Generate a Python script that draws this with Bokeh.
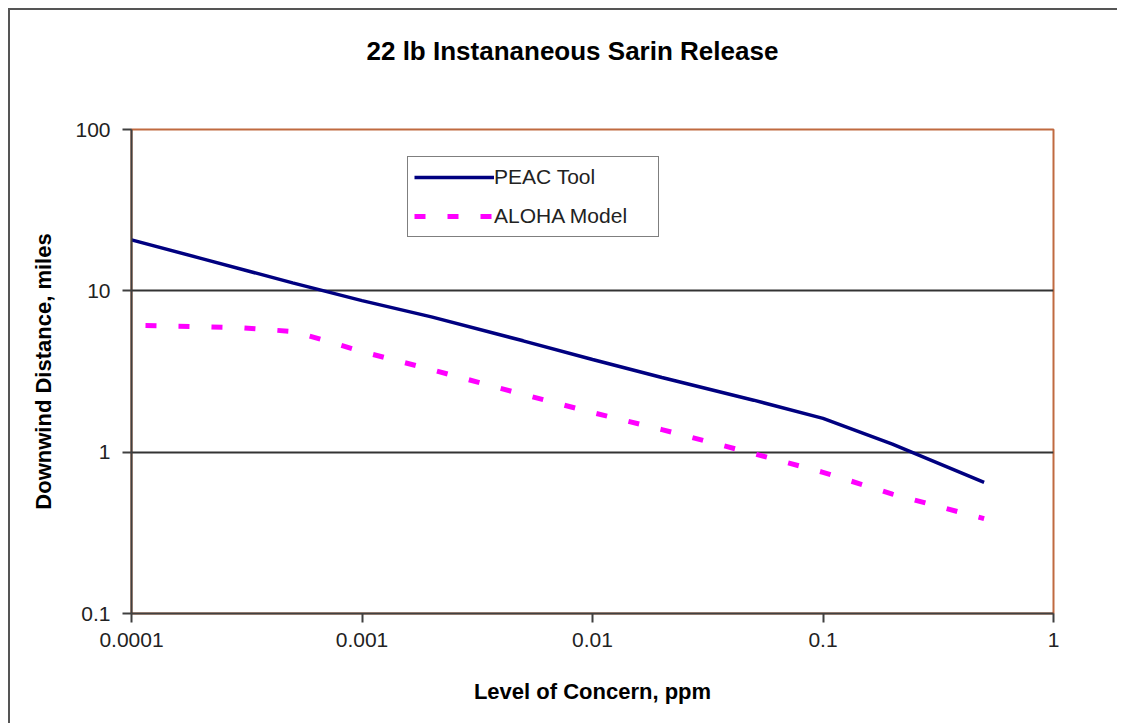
from bokeh.plotting import figure
from bokeh.models import Range1d, FixedTicker, Legend, LegendItem, Title
from bokeh.embed import file_html
from bokeh.resources import INLINE

# ---- data ----
peac_conc = [0.0001, 0.0002, 0.0005, 0.001, 0.002, 0.005, 0.01, 0.02, 0.05, 0.1, 0.2, 0.5]
peac_dist = [20.7, 15.9, 11.2, 8.7, 6.9, 4.9, 3.75, 2.9, 2.1, 1.62, 1.12, 0.65]

aloha_conc = [0.000115, 0.0002, 0.0003, 0.0005, 0.0007, 0.001, 0.002, 0.005, 0.01, 0.02, 0.05, 0.1, 0.2, 0.5]
aloha_dist = [6.1, 6.0, 5.9, 5.6, 4.9, 4.2, 3.25, 2.28, 1.76, 1.38, 0.98, 0.75, 0.55, 0.387]

x_ticks = [0.0001, 0.001, 0.01, 0.1, 1]
x_tick_labels = ["0.0001", "0.001", "0.01", "0.1", "1"]
y_ticks = [0.1, 1, 10, 100]
y_tick_labels = ["0.1", "1", "10", "100"]

title_text = "22 lb Instananeous Sarin Release"
x_label = "Level of Concern, ppm"
y_label = "Downwind Distance, miles"
series_names = ["PEAC Tool", "ALOHA Model"]

FONT = "Liberation Sans"

p = figure(width=1109, height=715,
           x_axis_type="log", y_axis_type="log",
           x_range=Range1d(1e-4, 1), y_range=Range1d(0.1, 100),
           output_backend="svg", toolbar_location=None,
           min_border_left=121, min_border_right=66,
           min_border_top=119, min_border_bottom=112)
p.styles = {"border-left": "2px solid #555555", "border-top": "2px solid #555555",
            "margin-left": "8px", "margin-top": "8px"}

p.background_fill_color = "white"
p.border_fill_color = "white"
p.outline_line_color = "#c06a40"
p.outline_line_width = 2

# title (outermost) plus an empty spacer title between it and the frame
p.title.text = title_text
p.title.align = "left"
p.title.offset = 235
p.title.vertical_align = "top"
p.title.standoff = 50
p.title.text_font = FONT
p.title.text_font_size = "26px"
p.title.text_font_style = "bold"
p.title.text_color = "black"

spacer = Title(text=" ", standoff=5, text_font=FONT, text_font_size="26px")
p.add_layout(spacer, "above")

# axes
for ax in (p.xaxis[0], p.yaxis[0]):
    ax.axis_line_color = "#404040"
    ax.axis_line_width = 2
    ax.major_tick_line_color = "#404040"
    ax.major_tick_line_width = 2
    ax.major_tick_in = 0
    ax.major_tick_out = 9
    ax.minor_tick_line_color = None
    ax.major_label_text_font = FONT
    ax.major_label_text_font_size = "21px"
    ax.major_label_text_color = "#222222"
    ax.axis_label_text_font = FONT
    ax.axis_label_text_font_size = "22px"
    ax.axis_label_text_font_style = "bold"
    ax.axis_label_text_color = "black"

p.xaxis.ticker = FixedTicker(ticks=x_ticks)
p.yaxis.ticker = FixedTicker(ticks=y_ticks)
p.xaxis.major_label_overrides = dict(zip(x_ticks, x_tick_labels))
p.yaxis.major_label_overrides = dict(zip(y_ticks, y_tick_labels))
p.xaxis.axis_label = x_label
p.yaxis.axis_label = y_label
p.xaxis.major_label_standoff = 10
p.yaxis.major_label_standoff = 12
p.xaxis.axis_label_standoff = 29
p.yaxis.axis_label_standoff = 16

# grid
p.xgrid.grid_line_color = None
p.ygrid.ticker = FixedTicker(ticks=y_ticks)
p.ygrid.grid_line_color = "#333333"
p.ygrid.grid_line_width = 2

# series
r1 = p.line(peac_conc, peac_dist, line_color="#000080", line_width=3.5)
r2 = p.line(aloha_conc, aloha_dist, line_color="#ff00ff", line_width=5, line_dash="11 22")

legend = Legend(items=[LegendItem(label=series_names[0], renderers=[r1]),
                       LegendItem(label=series_names[1], renderers=[r2])],
                location=(276, 376))
legend.border_line_color = "black"
legend.border_line_width = 1.5
legend.background_fill_color = "white"
legend.background_fill_alpha = 1
legend.label_text_font = FONT
legend.label_text_font_size = "21px"
legend.label_text_color = "#222222"
legend.glyph_width = 80
legend.glyph_height = 28
legend.label_height = 28
legend.label_width = 158
legend.label_standoff = 0
legend.padding = 6
legend.spacing = 11
legend.margin = 0
p.add_layout(legend)

open("out.html", "w").write(file_html(p, INLINE))
